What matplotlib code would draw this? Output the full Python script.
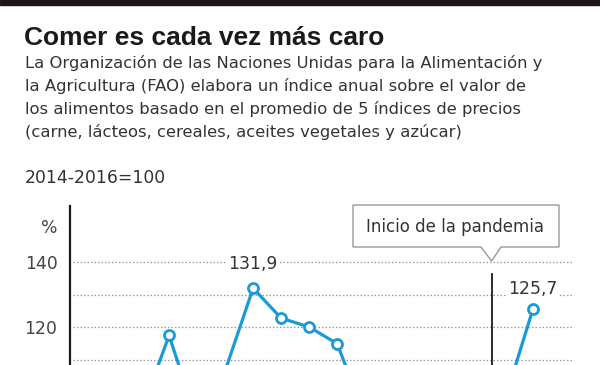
# FAO food price index, chart cropped like the original
import numpy as np
import matplotlib.pyplot as plt
from matplotlib.patches import Polygon, Rectangle

years = [2005, 2006, 2007, 2008, 2009, 2010, 2011, 2012, 2013, 2014, 2015,
         2016, 2017, 2018, 2019, 2020, 2021]
index = [67.4, 72.6, 94.3, 117.5, 91.4, 106.7, 131.9, 122.8, 120.1, 115.0, 93.0,
         91.9, 98.0, 95.9, 95.1, 98.1, 125.7]
yticks = [120, 140]
grid_vals = [110, 120, 130, 140]
labelled = {2011: "131,9", 2021: "125,7"}
pandemic_x = 2019.52

body = ["La Organización de las Naciones Unidas para la Alimentación y",
        "la Agricultura (FAO) elabora un índice anual sobre el valor de",
        "los alimentos basado en el promedio de 5 índices de precios",
        "(carne, lácteos, cereales, aceites vegetales y azúcar)"]

plt.rcParams['font.family'] = ['DejaVu Sans']
W, H = 600, 365
fig = plt.figure(figsize=(6, 3.65), dpi=100)
blue = "#1b9ad6"
txt = "#333333"

def fx(px):
    return px / W

def fy(py):
    return 1 - py / H

# top bar
fig.patches.append(Rectangle((0, fy(5)), 1, 5 / H, transform=fig.transFigure,
                             color="#1e1614", zorder=0))

fig.text(fx(24), fy(45), "Comer es cada vez más caro", fontsize=19, fontweight="bold",
         family=["Liberation Sans"], color="#1a1a1a", va="baseline")
for i, line in enumerate(body):
    fig.text(fx(25), fy(68 + 23 * i), line, fontsize=11.75, color=txt, va="baseline")
fig.text(fx(25), fy(183), "2014-2016=100", fontsize=12.4, color=txt, va="baseline")

ax = fig.add_axes([fx(70), 0, fx(572) - fx(70), fy(206)])
ax.set_xlim(2004.46, 2022.39)
ax.set_ylim(108.5, 157)
for s in ["top", "right", "bottom"]:
    ax.spines[s].set_visible(False)
ax.spines["left"].set_linewidth(1.6)
ax.spines["left"].set_color("#1a1a1a")
ax.set_xticks([])
ax.set_yticks(yticks)
ax.set_yticklabels([str(v) for v in yticks], fontsize=12.4, color="#444444")
ax.tick_params(axis="y", length=0, pad=9)
ax.text(-0.024, 150.3, "%", transform=ax.get_yaxis_transform(), ha="right", va="center",
        fontsize=12.4, color="#444444")

for g in grid_vals:
    ax.plot([2004.57, 2022.39], [g, g], color="#999999", lw=0.9, ls=(0, (1.2, 1.6)), zorder=1)

ax.plot(years, index, color=blue, lw=2.3, marker="o", ms=7.2, mfc="white", mec=blue, mew=2,
        zorder=3, clip_on=True)

label_offset = {2011: 7.4, 2021: 6.1}
for yr, lab in labelled.items():
    v = index[years.index(yr)]
    ax.text(yr, v + label_offset[yr], lab, ha="center", va="center", fontsize=12.4, color=txt,
            bbox=dict(facecolor="white", edgecolor="none", pad=1.5), zorder=2)

ax.plot([pandemic_x, pandemic_x], [136.4, 108.5], color="#1a1a1a", lw=1.3, zorder=2)

# callout box
fig.canvas.draw()
tx, ty = ax.transData.transform((pandemic_x, 140.2))
ty = H - ty
pts = [(353, 205), (559, 205), (559, 247), (501, 247), (tx, ty), (481, 247), (353, 247)]
poly = Polygon([(fx(x), fy(y)) for x, y in pts], closed=True, transform=fig.transFigure,
               facecolor="white", edgecolor="#999999", lw=1.0, zorder=5)
fig.patches.append(poly)
fig.text(fx(455), fy(227), "Inicio de la pandemia", ha="center", va="center",
         fontsize=12.0, color=txt, zorder=6)

fig.savefig("out.png", dpi=100, facecolor="white")
